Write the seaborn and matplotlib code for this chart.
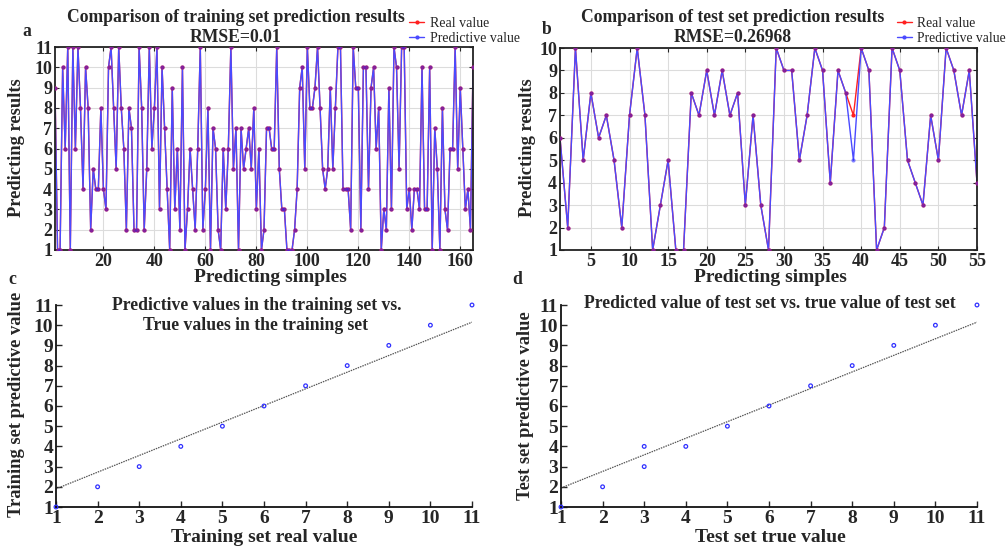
import numpy as np
import pandas as pd
import matplotlib
matplotlib.use("Agg")
import matplotlib.pyplot as plt
from matplotlib.lines import Line2D
import seaborn as sns

# ---------------- data ----------------
train_values = [9, 1, 1, 10, 6, 11, 1, 11, 6, 11, 8, 4, 10, 8, 2, 5, 4, 4, 8, 4,
                3, 10, 11, 8, 5, 11, 8, 6, 2, 8, 7, 2, 2, 11, 8, 2, 5, 11, 6, 8,
                11, 3, 10, 7, 4, 1, 9, 3, 6, 2, 10, 1, 3, 6, 4, 2, 6, 11, 2, 4,
                8, 1, 7, 6, 2, 1, 6, 3, 6, 11, 5, 7, 1, 7, 5, 6, 7, 5, 8, 3,
                6, 1, 2, 7, 7, 6, 6, 11, 5, 3, 3, 1, 1, 1, 2, 4, 9, 10, 5, 11,
                8, 8, 9, 11, 8, 5, 4, 5, 9, 5, 8, 11, 11, 4, 4, 4, 2, 11, 9, 9,
                2, 10, 10, 4, 9, 10, 6, 8, 1, 3, 2, 9, 3, 11, 10, 5, 11, 11, 3, 4,
                2, 4, 4, 3, 10, 3, 3, 10, 1, 7, 5, 1, 8, 3, 2, 6, 6, 11, 5, 9,
                6, 3, 4, 2, 10]
train_real = train_values
train_pred = train_values

test_real = [6, 2, 10, 5, 8, 6, 7, 5, 2, 7, 10, 7, 1, 3, 5, 1, 1, 8, 7, 9,
             7, 9, 7, 8, 3, 7, 3, 1, 10, 9, 9, 5, 7, 10, 9, 4, 9, 8, 7, 10,
             9, 1, 2, 10, 9, 5, 4, 3, 7, 5, 10, 9, 7, 9, 4]
test_pred = [6, 2, 10, 5, 8, 6, 7, 5, 2, 7, 10, 7, 1, 3, 5, 1, 1, 8, 7, 9,
             7, 9, 7, 8, 3, 7, 3, 1, 10, 9, 9, 5, 7, 10, 9, 4, 9, 8, 5, 10,
             9, 1, 2, 10, 9, 5, 4, 3, 7, 5, 10, 9, 7, 9, 4]

train_xticks = [20, 40, 60, 80, 100, 120, 140, 160]
train_yticks = [1, 2, 3, 4, 5, 6, 7, 8, 9, 10, 11]
test_xticks = [5, 10, 15, 20, 25, 30, 35, 40, 45, 50, 55]
test_yticks = [1, 2, 3, 4, 5, 6, 7, 8, 9, 10]
scatter_ticks = [1, 2, 3, 4, 5, 6, 7, 8, 9, 10, 11]

sc_train_true = [1, 2, 3, 4, 5, 6, 7, 8, 9, 10, 11]
sc_train_pred = [1, 2, 3, 4, 5, 6, 7, 8, 9, 10, 11]
sc_test_true = [1, 2, 3, 3, 4, 5, 6, 7, 8, 9, 10, 11]
sc_test_pred = [1, 2, 3, 4, 4, 5, 6, 7, 8, 9, 10, 11]

fit_x = [1, 11]
fit_train_y = [1.9, 10.15]
fit_test_y = [1.94, 10.15]

# ---------------- style ----------------
sns.set_theme(style="white")
plt.rcParams['font.family'] = ['Liberation Serif', 'DejaVu Serif']
plt.rcParams['mathtext.default'] = 'regular'

W, H = 1006, 550
fig = plt.figure(figsize=(W / 100, H / 100), dpi=100)


def px_axes(l, t, r, b):
    return fig.add_axes([l / W, 1 - b / H, (r - l) / W, (b - t) / H])


RED = '#ff2020'
BLUE = '#4a4aff'
TICKFS = 13
TITLEFS = 12.7
XLABFS = 14
YLABFS = 13.3


def top_panel(ax, real, pred, xticks, yticks, xmax, ymax):
    x = np.arange(1, len(real) + 1)
    df = pd.DataFrame({'x': x, 'real': real, 'pred': pred})
    sns.lineplot(data=df, x='x', y='real', ax=ax, color=RED, lw=1.0, zorder=2)
    sns.lineplot(data=df, x='x', y='pred', ax=ax, color=BLUE, lw=1.0, zorder=2.1)
    sns.scatterplot(data=df, x='x', y='real', ax=ax, color=RED, s=9,
                    linewidth=0, zorder=3)
    sns.scatterplot(data=df, x='x', y='pred', ax=ax, color='#2020ff', alpha=0.55,
                    s=9, linewidth=0, zorder=3.1)
    ax.set_xlim(1, xmax)
    ax.set_ylim(1, ymax)
    ax.set_xticks(xticks)
    ax.set_yticks(yticks)
    ax.grid(True, color='#dcdcdc', lw=0.8)
    ax.set_axisbelow(True)
    for s in ax.spines.values():
        s.set_color('#222222')
        s.set_linewidth(1.3)
    ax.tick_params(direction='in', length=3, width=0.8, top=True, right=True,
                   bottom=True, left=True, labelsize=TICKFS, pad=2)
    for lab in ax.get_xticklabels() + ax.get_yticklabels():
        lab.set_fontweight('bold')
    ax.set_xlabel('')
    ax.set_ylabel('')


def bottom_panel(ax, tx, ty, fy):
    sns.scatterplot(x=tx, y=ty, ax=ax, marker='o', s=7, facecolors='none',
                    edgecolor='#3030ff', linewidth=0.9, clip_on=False, zorder=3)
    sns.lineplot(x=fit_x, y=fy, ax=ax, color='#555555', lw=0.9, ls=(0, (1.2, 0.8)))
    ax.set_xlim(1, 11)
    ax.set_ylim(1, 11)
    ax.set_xticks(scatter_ticks)
    ax.set_yticks(scatter_ticks)
    for side in ['top', 'right']:
        ax.spines[side].set_visible(False)
    for side in ['left', 'bottom']:
        ax.spines[side].set_color('#111111')
        ax.spines[side].set_linewidth(1.3)
    ax.tick_params(direction='in', length=4, width=1.0, labelsize=TICKFS + 1, pad=2,
                   bottom=True, left=True)
    for lab in ax.get_xticklabels() + ax.get_yticklabels():
        lab.set_fontweight('bold')
    ax.set_xlabel('')
    ax.set_ylabel('')


ax_a = px_axes(55, 47, 473, 250)
ax_b = px_axes(560, 48, 977, 250)
ax_c = px_axes(56, 305, 472, 507)
ax_d = px_axes(561, 305, 977, 507)

top_panel(ax_a, train_real, train_pred, train_xticks, train_yticks, len(train_real), 11)
top_panel(ax_b, test_real, test_pred, test_xticks, test_yticks, len(test_real), 10)
bottom_panel(ax_c, sc_train_true, sc_train_pred, fit_train_y)
bottom_panel(ax_d, sc_test_true, sc_test_pred, fit_test_y)


def ftext(x, y, s, **kw):
    kw.setdefault('fontweight', 'bold')
    kw.setdefault('ha', 'center')
    kw.setdefault('va', 'center')
    fig.text(x / W, 1 - y / H, s, **kw)


# titles
ftext(236, 17, 'Comparison of training set prediction results', fontsize=TITLEFS)
ftext(236, 38, 'RMSE=0.01', fontsize=TITLEFS)
ftext(733, 17, 'Comparison of test set prediction results', fontsize=TITLEFS)
ftext(733, 38, 'RMSE=0.26968', fontsize=TITLEFS)
ftext(257, 305, 'Predictive values in the training set vs.', fontsize=TITLEFS)
ftext(256, 326, 'True values in the training set', fontsize=TITLEFS)
ftext(770, 303, 'Predicted value of test set vs. true value of test set', fontsize=TITLEFS)

# panel letters
ftext(27, 31, 'a', fontsize=TITLEFS)
ftext(547, 30, 'b', fontsize=TITLEFS)
ftext(12, 280, 'c', fontsize=TITLEFS)
ftext(517, 280, 'd', fontsize=TITLEFS)

# axis labels
ftext(270, 277, 'Predicting simples', fontsize=XLABFS)
ftext(770, 277, 'Predicting simples', fontsize=XLABFS)
ftext(264, 537, 'Training set real value', fontsize=XLABFS)
ftext(770, 537, 'Test set true value', fontsize=XLABFS)
ftext(17, 148, 'Predicting results', fontsize=YLABFS, rotation=90)
ftext(527, 148, 'Predicting results', fontsize=YLABFS, rotation=90)
ftext(17, 404, 'Training set predictive value', fontsize=YLABFS, rotation=90)
ftext(525, 406, 'Test set predictive value', fontsize=YLABFS, rotation=90)

# legends
handles = [Line2D([], [], color=RED, lw=1.0, marker='o', ms=3, mew=0),
           Line2D([], [], color=BLUE, lw=1.0, marker='o', ms=3, mew=0)]
labels = ['Real value', 'Predictive value']
for lx, fs in [(409, 10), (897, 9.8)]:
    fig.legend(handles, labels, loc='upper left',
               bbox_to_anchor=(lx / W, 1 - 17 / H), frameon=False,
               fontsize=fs, handlelength=1.1, handletextpad=0.4,
               labelspacing=0.15, borderpad=0, borderaxespad=0)

fig.savefig('out.png', dpi=100)
